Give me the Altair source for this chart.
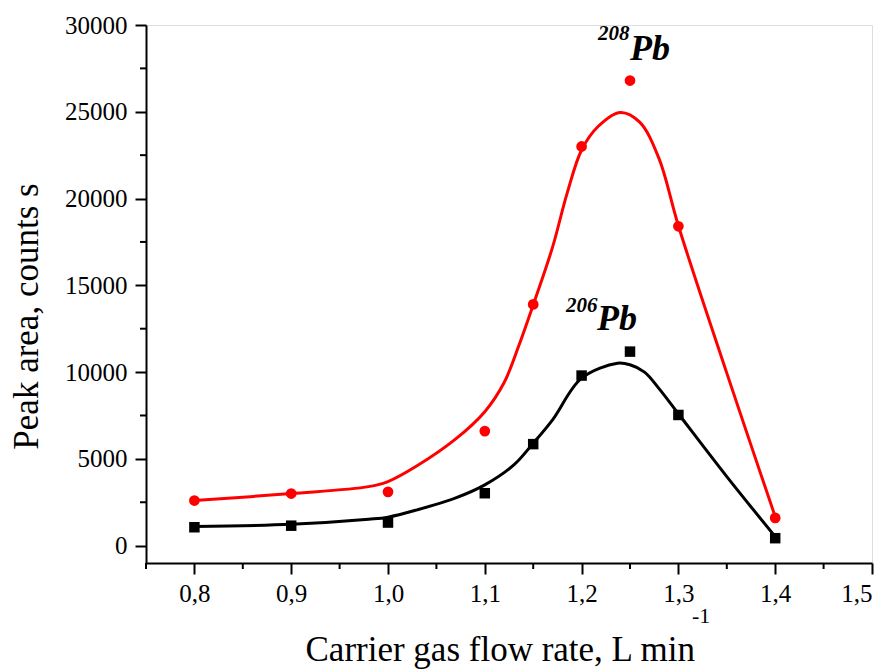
import altair as alt
import pandas as pd

# ---- measured data -------------------------------------------------------
flow = [0.8, 0.9, 1.0, 1.1, 1.15, 1.2, 1.25, 1.3, 1.4]
pb208 = [2600, 3000, 3100, 6600, 13900, 23000, 26800, 18400, 1600]
pb206 = [1060, 1150, 1330, 3020, 5850, 9800, 11180, 7530, 430]

# ---- fitted curves -------------------------------------------------------
fit208_x = [0.80, 0.90, 0.98, 1.00, 1.03, 1.07, 1.10, 1.12, 1.135, 1.15, 1.17,
            1.185, 1.20, 1.217, 1.24, 1.26, 1.28, 1.30, 1.35, 1.40]
fit208_y = [2600, 3000, 3400, 3690, 4600, 6150, 7720, 9400, 11500, 13870, 17200,
            20300, 22800, 24150, 24960, 24400, 22300, 18430, 9940, 1670]
fit206_x = [0.80, 0.90, 0.98, 1.00, 1.03, 1.07, 1.10, 1.13, 1.15, 1.17, 1.20,
            1.237, 1.25, 1.265, 1.28, 1.30, 1.35, 1.40]
fit206_y = [1100, 1230, 1520, 1640, 2060, 2750, 3500, 4650, 5900, 7250, 9650,
            10510, 10420, 10000, 9050, 7600, 3980, 520]

# ---- ticks ----------------------------------------------------------------
x_major = [0.8, 0.9, 1.0, 1.1, 1.2, 1.3, 1.4, 1.5]
x_minor = [0.75, 0.85, 0.95, 1.05, 1.15, 1.25, 1.35, 1.45]
y_major = [0, 5000, 10000, 15000, 20000, 25000, 30000]
y_minor = [2500, 7500, 12500, 17500, 22500, 27500]

# ---- annotations -------------------------------------------------------------
iso_mass = ["208", "206"]
iso_mass_x = [1.217, 1.184]
iso_mass_y = [29150, 13490]
iso_sym = ["Pb", "Pb"]
iso_sym_x = [1.250, 1.216]
iso_sym_y = [27990, 12430]

FONT = "Liberation Serif"
W, H = 726, 538

xs = alt.Scale(domain=[0.75, 1.5], nice=False, zero=False)
ys = alt.Scale(domain=[-1000, 30000], nice=False, zero=False)

pts = pd.DataFrame({"x": flow, "pb208": pb208, "pb206": pb206})
f208 = pd.DataFrame({"x": fit208_x, "y": fit208_y})
f206 = pd.DataFrame({"x": fit206_x, "y": fit206_y})

x_axis = alt.Axis(
    values=x_major,
    labelExpr="replace(format(datum.value, '.1f'), '.', ',')",
    tickSize=11, tickWidth=2, tickColor="black",
    domainWidth=2, domainColor="black",
    labelFont=FONT, labelFontSize=25, labelColor="black",
    labelBaseline="alphabetic", labelPadding=27,
    grid=False,
    title="Carrier gas flow rate, L min",
    titleFont=FONT, titleFontSize=35, titleFontWeight="normal", titleColor="black",
    titleAlign="left", titleBaseline="alphabetic", titleX=159, titleY=97,
)
y_axis = alt.Axis(
    values=y_major, format="d",
    tickSize=11, tickWidth=2, tickColor="black",
    domainWidth=2, domainColor="black",
    labelFont=FONT, labelFontSize=25, labelColor="black", labelPadding=8,
    grid=False,
    title="Peak area, counts s",
    titleFont=FONT, titleFontSize=35, titleFontWeight="normal", titleColor="black",
    titleAlign="center", titleBaseline="alphabetic", titleX=-109, titleY=291,
)


def X(field):
    return alt.X(field, scale=xs, axis=x_axis)


def Y(field):
    return alt.Y(field, scale=ys, axis=y_axis)


red_curve = alt.Chart(f208).mark_line(color="#ff0000", strokeWidth=3, interpolate="catmull-rom").encode(
    x=X("x:Q"), y=Y("y:Q"),
)
black_curve = alt.Chart(f206).mark_line(color="black", strokeWidth=3, interpolate="catmull-rom").encode(
    x=X("x:Q"), y=Y("y:Q"),
)
red_pts = alt.Chart(pts).mark_circle(color="#ff0000", size=115, opacity=1).encode(
    x=X("x:Q"), y=Y("pb208:Q"),
)
black_pts = alt.Chart(pts).mark_square(color="black", size=110, opacity=1).encode(
    x=X("x:Q"), y=Y("pb206:Q"),
)

xminor = alt.Chart(pd.DataFrame({"v": x_minor})).mark_rule(color="black", strokeWidth=2).encode(
    x=X("v:Q"),
    y=alt.value(H), y2=alt.value(H + 6),
)
yminor = alt.Chart(pd.DataFrame({"v": y_minor})).mark_rule(color="black", strokeWidth=2).encode(
    y=Y("v:Q"),
    x=alt.value(-6), x2=alt.value(0),
)

mass_txt = alt.Chart(pd.DataFrame({"x": iso_mass_x, "y": iso_mass_y, "t": iso_mass})).mark_text(
    font=FONT, fontSize=21, fontWeight="bold", fontStyle="italic", align="left",
    baseline="alphabetic", color="black",
).encode(
    x=X("x:Q"), y=Y("y:Q"), text="t:N",
)
sym_txt = alt.Chart(pd.DataFrame({"x": iso_sym_x, "y": iso_sym_y, "t": iso_sym})).mark_text(
    font=FONT, fontSize=36, fontWeight="bold", fontStyle="italic", align="left",
    baseline="alphabetic", color="black",
).encode(
    x=X("x:Q"), y=Y("y:Q"), text="t:N",
)

sup = alt.Chart(pd.DataFrame({"t": ["-1"]})).mark_text(
    font=FONT, fontSize=22, align="left", baseline="alphabetic", color="black",
).encode(
    x=alt.value(546), y=alt.value(598), text="t:N",
)

chart = alt.layer(
    red_curve, black_curve, red_pts, black_pts, xminor, yminor, mass_txt, sym_txt, sup
).properties(
    width=W, height=H,
    padding={"left": 146, "top": 25, "right": 16, "bottom": 106},
    autosize="none",
    background="white",
).configure_view(
    stroke=None
).configure_axis(
    labelFont=FONT, titleFont=FONT
).configure_text(
    font=FONT
).configure(
    font=FONT
)

chart.save("out.html", embed_options={"renderer": "svg", "actions": False})
